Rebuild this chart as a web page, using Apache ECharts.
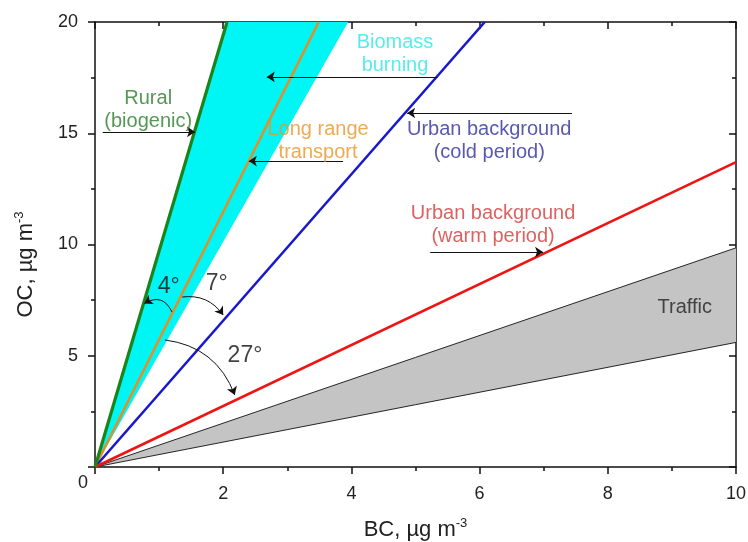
<!DOCTYPE html>
<html><head><meta charset="utf-8">
<script src="https://cdn.jsdelivr.net/npm/echarts@6/dist/echarts.min.js"></script>
<style>html,body{margin:0;padding:0;background:#fff}#c{width:748px;height:542px}</style>
</head><body><div id="c"></div>
<script>
// ---- data ----
const xRange = [0, 10];
const yRange = [0, 20];
const ruralLine = [[0, 0], [2.06, 20]];
const longRangeLine = [[0, 0], [3.49, 20]];
const coldLine = [[0, 0], [6.08, 20]];
const warmLine = [[0, 0], [10, 13.7]];
const biomassBand = [[0, 0], [2.06, 20], [3.95, 20]];
const trafficBand = [[0, 0], [10, 9.85], [10, 5.6]];

const annoText = ['Rural\n(biogenic)', 'Biomass\nburning', 'Long range\ntransport',
  'Urban background\n(cold period)', 'Urban background\n(warm period)', 'Traffic', '4°', '7°', '27°'];
const annoX = [0.83, 4.68, 3.48, 6.15, 6.21, 9.2, 1.15, 1.90, 2.34];
const annoY = [16.04, 18.56, 14.63, 14.63, 10.88, 7.15, 8.09, 8.22, 5.0];
const annoColor = ['#2b7d2b', '#2fe6e6', '#e8952a', '#2e2e9e', '#d43a3a', '#222222', '#111111', '#111111', '#111111'];

const arrowFrom = [[5.34, 17.53], [0.12, 15.06], [3.87, 13.75], [7.44, 15.91], [5.23, 9.66], [1.20, 6.97], [1.36, 7.64], [1.09, 5.71]];
const arrowTo   = [[2.68, 17.53], [1.56, 15.06], [2.40, 13.75], [4.87, 15.91], [6.99, 9.66], [0.77, 7.35], [2.00, 6.83], [2.18, 3.24]];
const arrowCurve = [0, 0, 0, 0, 0, -0.55, 0.3, 0.3];

const FONT = '"Liberation Sans", Arial, sans-serif';

function bandSeries(band, fill, edge) {
  return {
    type: 'custom', data: band, encode: {x: 0, y: 1}, silent: true, z: 1,
    renderItem: function (params, api) {
      if (params.dataIndex !== 0) return;
      const pts = band.map(p => api.coord(p));
      const children = [{type: 'polygon', shape: {points: pts}, style: {fill: fill}}];
      if (edge) {
        children.push({type: 'polyline', shape: {points: [pts[1], pts[0], pts[2]]},
          style: {stroke: edge, lineWidth: 0.9, fill: null}});
      }
      return {type: 'group', children: children};
    }
  };
}
function lineSeries(data, color, width) {
  return {type: 'line', data: data, showSymbol: false, silent: true, z: 3,
    lineStyle: {color: color, width: width}};
}

const nameRich = {
  a: {fontSize: 22, color: '#222', fontFamily: FONT},
  s: {fontSize: 13, color: '#222', fontFamily: FONT, verticalAlign: 'top', padding: [0, 0, 13, 0]}
};

const chart = echarts.init(document.getElementById('c'));
const axisLineStyle = {color: '#111', width: 1.5};
chart.setOption({
  animation: false,
  grid: {left: 95, right: 12, top: 22, bottom: 75, containLabel: false, outerBoundsMode: 'none'},
  xAxis: [{
    type: 'value', min: xRange[0], max: xRange[1], interval: 2, position: 'bottom',
    axisLine: {show: true, onZero: false, lineStyle: axisLineStyle},
    axisTick: {show: true, length: 7, lineStyle: {color: '#111', width: 1.5}},
    minorTick: {show: true, splitNumber: 2, length: 4, lineStyle: {color: '#111', width: 1.5}},
    splitLine: {show: false},
    axisLabel: {showMinLabel: false, margin: 18, fontSize: 18, color: '#222', fontFamily: FONT},
    name: '{a|BC, µg m}{s|-3}', nameLocation: 'middle', nameGap: 50,
    nameTextStyle: {fontSize: 22, color: '#222', fontFamily: FONT, rich: nameRich}
  }, {
    type: 'value', min: xRange[0], max: xRange[1], interval: 2, position: 'top',
    axisLine: {show: true, onZero: false, lineStyle: axisLineStyle},
    axisTick: {show: true, inside: true, length: 7, lineStyle: {color: '#111', width: 1.5}},
    minorTick: {show: true, splitNumber: 2, length: 4, lineStyle: {color: '#111', width: 1.5}},
    splitLine: {show: false}, axisLabel: {show: false}
  }],
  yAxis: [{
    type: 'value', min: yRange[0], max: yRange[1], interval: 5, position: 'left',
    axisLine: {show: true, onZero: false, lineStyle: axisLineStyle},
    axisTick: {show: true, length: 7, lineStyle: {color: '#111', width: 1.5}},
    minorTick: {show: true, splitNumber: 2, length: 4, lineStyle: {color: '#111', width: 1.5}},
    splitLine: {show: false},
    axisLabel: {showMinLabel: false, margin: 17, fontSize: 18, color: '#222', fontFamily: FONT},
    name: '{a|OC, µg m}{s|-3}', nameLocation: 'middle', nameGap: 56, nameRotate: 90,
    nameTextStyle: {fontSize: 22, color: '#222', fontFamily: FONT, rich: nameRich, padding: [0, 40, 0, 0]}
  }, {
    type: 'value', min: yRange[0], max: yRange[1], interval: 5, position: 'right',
    axisLine: {show: true, onZero: false, lineStyle: axisLineStyle},
    axisTick: {show: true, inside: true, length: 7, lineStyle: {color: '#111', width: 1.5}},
    minorTick: {show: true, splitNumber: 2, length: 4, lineStyle: {color: '#111', width: 1.5}},
    splitLine: {show: false}, axisLabel: {show: false}
  }],
  graphic: [{type: 'text', left: 78, top: 474,
    style: {text: '0', fontSize: 18, fill: '#222', fontFamily: FONT}}],
  series: [
    bandSeries(biomassBand, '#00f5f5', null),
    bandSeries(trafficBand, '#c4c4c4', '#111'),
    lineSeries(longRangeLine, '#e0902a', 2.6),
    lineSeries(coldLine, '#1818cc', 2.6),
    lineSeries(warmLine, '#ee1414', 2.6),
    lineSeries(ruralLine, '#1a841a', 3.2),
    {
      type: 'lines', coordinateSystem: 'cartesian2d', silent: true, z: 5,
      symbol: ['none', 'arrow'], symbolSize: 8,
      lineStyle: {color: '#111', width: 1, opacity: 1},
      data: arrowFrom.map((f, i) => ({coords: [f, arrowTo[i]], lineStyle: {curveness: arrowCurve[i]}}))
    },
    {
      type: 'scatter', silent: true, z: 6, symbolSize: 0,
      data: annoText.map((t, i) => ({
        value: [annoX[i], annoY[i]],
        label: {show: true, position: 'inside', formatter: t, align: 'center', verticalAlign: 'middle',
          color: annoColor[i], fontSize: i >= 6 ? 23 : 20, lineHeight: 23, fontFamily: FONT}
      }))
    }
  ]
});
</script></body></html>
